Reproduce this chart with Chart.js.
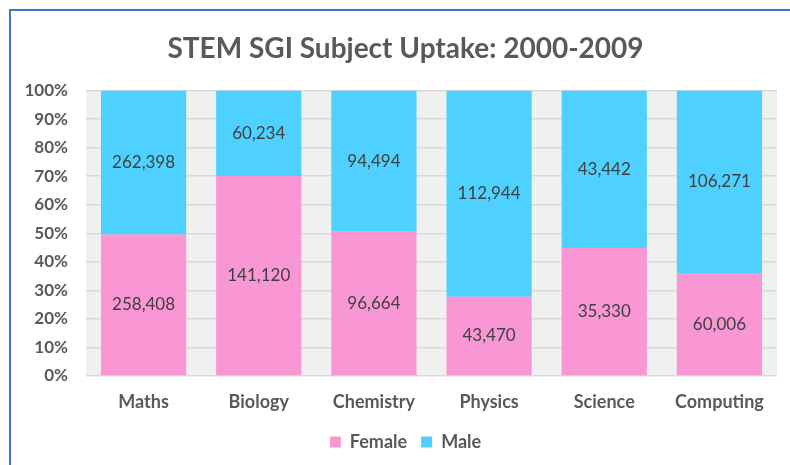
<!DOCTYPE html>
<html>
<head>
<meta charset="utf-8">
<script src="https://cdn.jsdelivr.net/npm/chart.js@4.4.1/dist/chart.umd.min.js"></script>
<style>
  html, body { margin: 0; padding: 0; background: #ffffff; }
  #wrap { position: relative; width: 790px; height: 465px; overflow: hidden; }
  #frame { position: absolute; left: 9px; top: 9px; width: 900px; height: 600px;
           border-left: 2px solid #4472C4; border-top: 2px solid #4472C4; box-sizing: border-box; }
  canvas { position: absolute; left: 0; top: 0; }
</style>
</head>
<body>
<div id="wrap">
  <div id="frame"></div>
  <canvas id="c" width="790" height="465"></canvas>
</div>
<script>
const categories = ["Maths", "Biology", "Chemistry", "Physics", "Science", "Computing"];
const femaleCounts = [258408, 141120, 96664, 43470, 35330, 60006];
const maleCounts = [262398, 60234, 94494, 112944, 43442, 106271];
const yTicks = [0, 10, 20, 30, 40, 50, 60, 70, 80, 90, 100];
const titleText = "STEM SGI Subject Uptake: 2000-2009";

const totals = categories.map((_, i) => femaleCounts[i] + maleCounts[i]);
const femaleShare = femaleCounts.map((v, i) => v / totals[i] * 100);
const maleShare = maleCounts.map((v, i) => v / totals[i] * 100);

const FONT = "Lato, 'Open Sans', sans-serif";

const bgPlugin = {
  id: 'plotBg',
  beforeDraw(chart) {
    const a = chart.chartArea, ctx = chart.ctx;
    ctx.save();
    ctx.fillStyle = '#F0F0F0';
    ctx.fillRect(a.left, a.top, a.right - a.left, a.bottom - a.top);
    ctx.restore();
  }
};

const labelPlugin = {
  id: 'valueLabels',
  afterDatasetsDraw(chart) {
    const ctx = chart.ctx;
    ctx.save();
    ctx.font = "17px " + FONT;
    ctx.fillStyle = '#404040';
    ctx.textAlign = 'center';
    ctx.textBaseline = 'middle';
    chart.data.datasets.forEach((ds, di) => {
      const meta = chart.getDatasetMeta(di);
      meta.data.forEach((el, i) => {
        const cy = (el.y + el.base) / 2;
        ctx.fillText(ds.counts[i].toLocaleString('en-US'), el.x, cy);
      });
    });
    ctx.restore();
  }
};

new Chart(document.getElementById('c'), {
  type: 'bar',
  data: {
    labels: categories,
    datasets: [
      { label: 'Female', data: femaleShare, counts: femaleCounts, backgroundColor: '#F996D4', borderWidth: 0 },
      { label: 'Male', data: maleShare, counts: maleCounts, backgroundColor: '#4FD1FF', borderWidth: 0 }
    ]
  },
  options: {
    responsive: false,
    animation: false,
    devicePixelRatio: 1,
    layout: { padding: { left: 34, right: 13, top: 0, bottom: 4 } },
    datasets: { bar: { categoryPercentage: 1.0, barPercentage: 0.74 } },
    scales: {
      x: {
        stacked: true,
        grid: { display: false, drawTicks: false },
        border: { display: false },
        ticks: { color: '#595959', font: { family: FONT, size: 18, weight: 'bold' }, padding: 15 },
        afterFit(s) { s.height = 43; }
      },
      y: {
        stacked: true,
        min: 0, max: 100,
        afterBuildTicks(s) { s.ticks = yTicks.map(v => ({ value: v })); },
        grid: { color: '#D9D9D9', lineWidth: 1.5, drawTicks: false },
        border: { display: false },
        ticks: { color: '#595959', font: { family: FONT, size: 17, weight: 'bold' }, padding: 18,
                 callback: v => v + '%' },
        afterFit(s) {
          s.width = 52;
          // let the tick labels extend left of the narrow axis box without clipping
          s._computeLabelArea = () => undefined;
        }
      }
    },
    plugins: {
      title: {
        display: true, text: titleText, color: '#595959',
        font: { family: FONT, size: 28, weight: 'bold' },
        padding: { top: 32, bottom: 25 }
      },
      legend: {
        display: true, position: 'bottom',
        labels: { color: '#595959', font: { family: FONT, size: 18, weight: 'bold' },
                  boxWidth: 11, boxHeight: 11, padding: 14 }
      },
      tooltip: { enabled: false }
    }
  },
  plugins: [bgPlugin, labelPlugin]
});
</script>
</body>
</html>
